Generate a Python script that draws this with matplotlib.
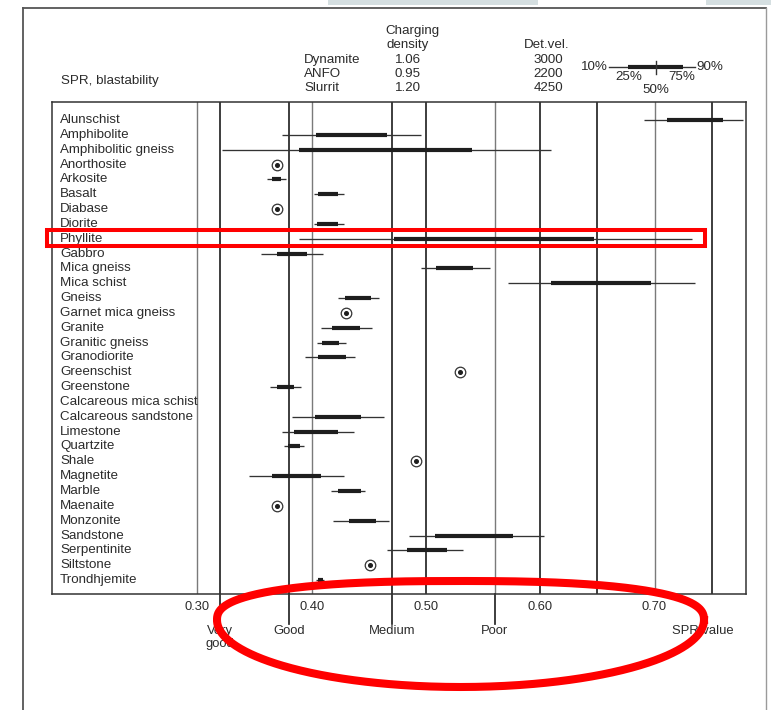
import matplotlib
matplotlib.use("Agg")
import numpy as np
import matplotlib.pyplot as plt
from matplotlib.patches import Rectangle
from matplotlib.lines import Line2D
from matplotlib.transforms import blended_transform_factory

plt.rcParams['font.family'] = ['Liberation Sans', 'DejaVu Sans']

# ---------------- data ----------------
rocks = ["Alunschist", "Amphibolite", "Amphibolitic gneiss", "Anorthosite", "Arkosite",
         "Basalt", "Diabase", "Diorite", "Phyllite", "Gabbro", "Mica gneiss", "Mica schist",
         "Gneiss", "Garnet mica gneiss", "Granite", "Granitic gneiss", "Granodiorite",
         "Greenschist", "Greenstone", "Calcareous mica schist", "Calcareous sandstone",
         "Limestone", "Quartzite", "Shale", "Magnetite", "Marble", "Maenaite", "Monzonite",
         "Sandstone", "Serpentinite", "Siltstone", "Trondhjemite"]
N = None
p10 = [0.691, 0.374, 0.322, N, 0.361, 0.402, N, 0.402, 0.389, 0.356, 0.496, 0.572,
       0.423, N, 0.408, 0.405, 0.394, N, 0.364, N, 0.383, 0.374, 0.376, N, 0.345, 0.417,
       N, 0.419, 0.485, 0.466, N, 0.404]
p25 = [0.711, 0.404, 0.389, N, 0.365, 0.406, N, 0.405, 0.472, 0.370, 0.509, 0.609,
       0.429, N, 0.418, 0.409, 0.406, N, 0.370, N, 0.403, 0.385, 0.379, N, 0.365, 0.423,
       N, 0.433, 0.508, 0.483, N, 0.406]
p75 = [0.760, 0.466, 0.540, N, 0.373, 0.423, N, 0.423, 0.647, 0.396, 0.541, 0.697,
       0.452, N, 0.442, 0.424, 0.430, N, 0.385, N, 0.443, 0.423, 0.390, N, 0.408, 0.443,
       N, 0.456, 0.576, 0.518, N, 0.410]
p90 = [0.777, 0.496, 0.609, N, 0.378, 0.428, N, 0.428, 0.733, 0.410, 0.556, 0.735,
       0.459, N, 0.453, 0.430, 0.438, N, 0.391, N, 0.463, 0.437, 0.393, N, 0.428, 0.447,
       N, 0.468, 0.603, 0.532, N, 0.411]
single = [N, N, N, 0.370, N, N, 0.370, N, N, N, N, N, N, 0.430, N, N, N, 0.530, N, N,
          N, N, N, 0.491, N, N, 0.370, N, N, N, 0.451, N]

tick_vals = [0.30, 0.40, 0.50, 0.60, 0.70]
tick_labels = ["0.30", "0.40", "0.50", "0.60", "0.70"]
boundaries = [0.32, 0.38, 0.47, 0.56]
class_labels = ["Very\ngood", "Good", "Medium", "Poor"]
spr_label_x = 0.742
grid_dark = [0.32, 0.38, 0.47, 0.50, 0.60, 0.65, 0.75]
grid_light = [0.30, 0.40, 0.56, 0.70]

explosives = ["Dynamite", "ANFO", "Slurrit"]
charging_density = ["1.06", "0.95", "1.20"]
det_vel = ["3000", "2200", "4250"]

# ---------------- figure ----------------
W, H = 771, 710
fig = plt.figure(figsize=(W / 100, H / 100), dpi=100)
fig.patch.set_facecolor("white")


def fx(px):
    return px / W


def fy(py):
    return 1 - py / H


TXT = "#2b2b2b"

# page decorations (top light bars, outer frame)
fig.add_artist(Rectangle((fx(328), fy(5)), fx(538) - fx(328), 5 / H, transform=fig.transFigure,
                         facecolor="#d5dfe1", edgecolor="none"))
fig.add_artist(Rectangle((fx(706), fy(5)), fx(771) - fx(706), 5 / H, transform=fig.transFigure,
                         facecolor="#d5dfe1", edgecolor="none"))
fig.add_artist(Line2D([fx(22.7), fx(22.7)], [fy(8.3), fy(710)], transform=fig.transFigure,
                      color="#555555", lw=1.3))
fig.add_artist(Line2D([fx(22.7), fx(765.7)], [fy(8.3), fy(8.3)], transform=fig.transFigure,
                      color="#555555", lw=1.3))
fig.add_artist(Line2D([fx(765.7), fx(765.7)], [fy(8.3), fy(710)], transform=fig.transFigure,
                      color="#9a9a9a", lw=1.0))

# main axes
ax = fig.add_axes([fx(51.7), fy(593.7), fx(746) - fx(51.7), fy(102) - fy(593.7)])
ax.set_xlim(0.1726, 0.7800)
ax.set_ylim(31.92, -1.213)
ax.set_yticks([])
ax.set_xticks(tick_vals, tick_labels)
ax.tick_params(axis="x", length=0, pad=5, labelsize=9.3, labelcolor=TXT)
for s in ax.spines.values():
    s.set_color("#333333")
    s.set_linewidth(1.1)

for g in grid_light:
    ax.axvline(g, color="#7a7a7a", lw=1.0, zorder=1)
for g in grid_dark:
    ax.axvline(g, color="#262626", lw=1.25, zorder=1)
ext = (624 - 593.7) / (593.7 - 102)
for b in boundaries:
    ax.axvline(b, ymin=-ext, ymax=0, color="#262626", lw=1.25, clip_on=False, zorder=1)

# row labels
ylab = ax.get_yaxis_transform()
for i, name in enumerate(rocks):
    ax.text(0.012, i, name, transform=ylab, ha="left", va="center", fontsize=9.6, color=TXT)

# percentile bars and single observations
for i in range(len(rocks)):
    if p10[i] is not None:
        ax.hlines(i, p10[i], p90[i], color="#333333", lw=0.95, zorder=3)
        ax.hlines(i, p25[i], p75[i], color="#1e1e1e", lw=3.0, zorder=4)
    if single[i] is not None:
        ax.plot(single[i], i, "o", mfc="white", mec="#333333", ms=7.6, mew=0.9, zorder=4)
        ax.plot(single[i], i, "o", color="#1e1e1e", ms=2.6, zorder=5)

# class labels under the axis
bt = blended_transform_factory(ax.transData, fig.transFigure)
for b, lab in zip(boundaries, class_labels):
    ax.text(b, fy(625), lab, transform=bt, ha="center", va="top", fontsize=9.4,
            color=TXT, linespacing=1.15)
ax.text(spr_label_x, fy(625), "SPR value", transform=bt, ha="center", va="top",
        fontsize=9.4, color=TXT)

# ---------------- header ----------------
fs = 9.6
fig.text(fx(61), fy(80.7), "SPR, blastability", ha="left", va="center", fontsize=fs, color=TXT)
fig.text(fx(412), fy(31), "Charging", ha="center", va="center", fontsize=fs, color=TXT)
fig.text(fx(408), fy(45), "density", ha="center", va="center", fontsize=fs, color=TXT)
fig.text(fx(547), fy(45), "Det.vel.", ha="center", va="center", fontsize=fs, color=TXT)
for k, (e, c, d) in enumerate(zip(explosives, charging_density, det_vel)):
    yy = fy(60 + 14 * k)
    fig.text(fx(304), yy, e, ha="left", va="center", fontsize=fs, color=TXT)
    fig.text(fx(408), yy, c, ha="center", va="center", fontsize=fs, color=TXT)
    fig.text(fx(548), yy, d, ha="center", va="center", fontsize=fs, color=TXT)

# percentile key
fig.add_artist(Line2D([fx(609), fx(695)], [fy(67), fy(67)], transform=fig.transFigure,
                      color="#333333", lw=1.0))
fig.add_artist(Line2D([fx(628), fx(683)], [fy(67), fy(67)], transform=fig.transFigure,
                      color="#1e1e1e", lw=3.0, solid_capstyle="butt"))
fig.add_artist(Line2D([fx(656), fx(656)], [fy(60.5), fy(73.5)], transform=fig.transFigure,
                      color="#333333", lw=1.0))
fig.text(fx(608), fy(66.7), "10%", ha="right", va="center", fontsize=fs, color=TXT)
fig.text(fx(696.5), fy(66.7), "90%", ha="left", va="center", fontsize=fs, color=TXT)
fig.text(fx(629), fy(77.5), "25%", ha="center", va="center", fontsize=fs, color=TXT)
fig.text(fx(682), fy(77.5), "75%", ha="center", va="center", fontsize=fs, color=TXT)
fig.text(fx(655.5), fy(90), "50%", ha="center", va="center", fontsize=fs, color=TXT)

# ---------------- red annotations (hand-drawn marks on the page) ----------------
fig.add_artist(Rectangle((fx(47), fy(245.7)), fx(705) - fx(47), (245.7 - 230.3) / H,
                         transform=fig.transFigure, fill=False, edgecolor="#ff0000",
                         lw=2.9, zorder=20))
# egg-shaped loop: flatter upper half, rounder lower half
cx, cy, a, b_top, b_bot = 460.5, 620.0, 243.5, 39.0, 67.0
t = np.linspace(0, 2 * np.pi, 721)
c, s = np.cos(t), np.sin(t)
upper = s >= 0
ex = np.where(upper, cx + a * np.sign(c) * np.abs(c) ** (2 / 2.5), cx + a * c)
ey = np.where(upper, cy - b_top * np.abs(s) ** (2 / 2.5), cy + b_bot * np.abs(s))
fig.add_artist(Line2D(fx(ex), fy(ey), transform=fig.transFigure, color="#ff0000",
                      lw=5.8, zorder=20, solid_joinstyle="round"))

fig.savefig("out.png", dpi=100, facecolor="white")
